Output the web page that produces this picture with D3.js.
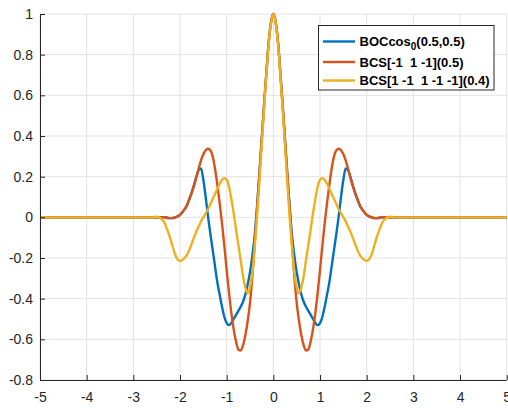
<!DOCTYPE html>
<html><head><meta charset="utf-8">
<script src="https://cdn.jsdelivr.net/npm/d3@7"></script>
<style>
html,body{margin:0;padding:0;background:#fff;}
svg{display:block;font-family:"Liberation Sans",Arial,Helvetica,sans-serif;}
</style></head>
<body><svg id="c" width="508" height="408"></svg>
<script>
// lag values (x)
const lag = [-5,
 -2.6,-2.55,-2.5,-2.45,-2.4,-2.35,-2.3,-2.25,-2.2,-2.15,-2.1,-2.05,-2,
 -1.95,-1.9,-1.85,-1.8,-1.75,-1.7,-1.65,-1.6,-1.55,-1.5,
 -1.45,-1.4,-1.35,-1.3,-1.25,-1.2,-1.15,-1.1,-1.05,-1,
 -0.95,-0.9,-0.85,-0.8,-0.75,-0.7,-0.65,-0.6,-0.55,-0.5,
 -0.45,-0.4,-0.35,-0.3,-0.25,-0.2,-0.15,-0.1,-0.05,
 0,
 0.05,0.1,0.15,0.2,0.25,0.3,0.35,0.4,0.45,
 0.5,0.55,0.6,0.65,0.7,0.75,0.8,0.85,0.9,0.95,
 1,1.05,1.1,1.15,1.2,1.25,1.3,1.35,1.4,1.45,
 1.5,1.55,1.6,1.65,1.7,1.75,1.8,1.85,1.9,1.95,
 2,2.05,2.1,2.15,2.2,2.25,2.3,2.35,2.4,2.45,2.5,2.55,2.6,
 5];

const bocCos = [0,
 0.000,0.000,0.000,0.001,0.001,0.000,-0.001,-0.003,-0.004,-0.003,0.000,0.005,0.012,
 0.025,0.040,0.060,0.090,0.122,0.160,0.200,0.232,0.240,0.185,
 0.100,0.005,-0.080,-0.160,-0.240,-0.320,-0.380,-0.440,-0.490,-0.520,
 -0.530,-0.520,-0.500,-0.480,-0.460,-0.440,-0.415,-0.380,-0.330,-0.270,
 -0.190,-0.090,0.050,0.210,0.380,0.550,0.710,0.860,0.960,
 1.000,
 0.960,0.860,0.710,0.550,0.380,0.210,0.050,-0.090,-0.190,
 -0.270,-0.330,-0.380,-0.415,-0.440,-0.460,-0.480,-0.500,-0.520,-0.530,
 -0.520,-0.490,-0.440,-0.380,-0.320,-0.240,-0.160,-0.080,0.005,0.100,
 0.185,0.240,0.232,0.200,0.160,0.122,0.090,0.060,0.040,0.025,
 0.012,0.005,0.000,-0.003,-0.004,-0.003,-0.001,0.000,0.001,0.001,0.000,0.000,0.000,
 0];

const bcs3 = [0,
 0.000,0.000,0.000,0.001,0.001,0.000,-0.001,-0.003,-0.004,-0.003,0.000,0.005,0.012,
 0.025,0.040,0.060,0.090,0.120,0.155,0.195,0.240,0.280,0.310,
 0.330,0.337,0.330,0.300,0.240,0.160,0.070,-0.030,-0.140,-0.260,
 -0.370,-0.470,-0.550,-0.610,-0.650,-0.655,-0.630,-0.580,-0.510,-0.420,
 -0.290,-0.130,0.040,0.210,0.380,0.550,0.710,0.860,0.960,
 1.000,
 0.960,0.860,0.710,0.550,0.380,0.210,0.040,-0.130,-0.290,
 -0.420,-0.510,-0.580,-0.630,-0.655,-0.650,-0.610,-0.550,-0.470,-0.370,
 -0.260,-0.140,-0.030,0.070,0.160,0.240,0.300,0.330,0.337,0.330,
 0.310,0.280,0.240,0.195,0.155,0.120,0.090,0.060,0.040,0.025,
 0.012,0.005,0.000,-0.003,-0.004,-0.003,-0.001,0.000,0.001,0.001,0.000,0.000,0.000,
 0];

const bcs5 = [0,
 0.000,0.002,0.003,0.000,-0.008,-0.020,-0.045,-0.075,-0.110,-0.150,-0.185,-0.207,-0.214,
 -0.210,-0.200,-0.185,-0.160,-0.130,-0.100,-0.070,-0.045,-0.020,0.000,
 0.020,0.040,0.065,0.090,0.115,0.140,0.165,0.185,0.193,0.185,
 0.150,0.090,0.020,-0.060,-0.135,-0.210,-0.290,-0.345,-0.373,-0.345,
 -0.270,-0.150,0.000,0.170,0.350,0.530,0.700,0.850,0.955,
 1.000,
 0.955,0.850,0.700,0.530,0.350,0.170,0.000,-0.150,-0.270,
 -0.345,-0.373,-0.345,-0.290,-0.210,-0.135,-0.060,0.020,0.090,0.150,
 0.185,0.193,0.185,0.165,0.140,0.115,0.090,0.065,0.040,0.020,
 0.000,-0.020,-0.045,-0.070,-0.100,-0.130,-0.160,-0.185,-0.200,-0.210,
 -0.214,-0.207,-0.185,-0.150,-0.110,-0.075,-0.045,-0.020,-0.008,0.000,0.003,0.002,0.000,
 0];

const seriesNames = ["BOCcos", "BCS[-1\u00a0\u00a01 -1](0.5)", "BCS[1 -1\u00a0\u00a01 -1 -1](0.4)"];
const seriesColors = ["#0072BD", "#D95319", "#EDB120"];
const xTicks = [-5,-4,-3,-2,-1,0,1,2,3,4,5];
const yTicks = [-0.8,-0.6,-0.4,-0.2,0,0.2,0.4,0.6,0.8,1];

const svg = d3.select("#c");
const L = 40, R = 506.7, T = 14, B = 380;
const x = d3.scaleLinear().domain([-5,5]).range([L,R]);
const y = d3.scaleLinear().domain([-0.8,1]).range([B,T]);

// grid
const g = svg.append("g");
g.selectAll("line.gx").data(xTicks).enter().append("line")
 .attr("x1",d=>x(d)).attr("x2",d=>x(d)).attr("y1",T).attr("y2",B)
 .attr("stroke","#e3e3e3").attr("stroke-width",1);
g.selectAll("line.gy").data(yTicks).enter().append("line")
 .attr("x1",L).attr("x2",R).attr("y1",d=>y(d)).attr("y2",d=>y(d))
 .attr("stroke","#e3e3e3").attr("stroke-width",1);

// curves
const sets = [bocCos, bcs3, bcs5];
const line = d3.line().x(d=>x(d[0])).y(d=>y(d[1])).curve(d3.curveMonotoneX);
sets.forEach((vals,i)=>{
  const pts = lag.map((l,k)=>[l, vals[k]]);
  svg.append("path").attr("d", line(pts)).attr("fill","none")
    .attr("stroke", seriesColors[i]).attr("stroke-width",2.4)
    .attr("stroke-linejoin","round");
});

// axes
const fmt = d => String(d);
const ax = svg.append("g").attr("transform",`translate(0,${B})`)
  .call(d3.axisBottom(x).tickValues(xTicks).tickSize(-5).tickPadding(12).tickFormat(fmt));
const ay = svg.append("g").attr("transform",`translate(${L},0)`)
  .call(d3.axisLeft(y).tickValues(yTicks).tickSize(-5).tickPadding(7).tickFormat(fmt));
[ax,ay].forEach(a=>{
  a.selectAll("path").attr("stroke","#262626").attr("stroke-width",1);
  a.selectAll("line").attr("stroke","#262626");
  a.selectAll("text").attr("fill","#262626").style("font-size","14px").style("font-family","'Liberation Sans',Arial,sans-serif");
});
ax.selectAll("path").attr("d",`M${L},0.5H${R}`);
ay.selectAll("path").attr("d",`M0.5,${B}V${T}`);

// legend
const lg = svg.append("g");
lg.append("rect").attr("x",318.5).attr("y",25.5).attr("width",175.5).attr("height",64.5)
  .attr("fill","#fff").attr("stroke","#262626").attr("stroke-width",1);
const rowsY = [41.5, 62, 80.5];
seriesNames.forEach((n,i)=>{
  lg.append("line").attr("x1",323).attr("x2",355).attr("y1",rowsY[i]).attr("y2",rowsY[i])
    .attr("stroke",seriesColors[i]).attr("stroke-width",2.4);
  const t = lg.append("text").attr("x",359.5).attr("y",rowsY[i]+4.5)
    .attr("fill","#000").style("font-size","13px").style("font-weight","bold");
  if(i===0){
    t.append("tspan").text("BOCcos");
    t.append("tspan").attr("dy",4).style("font-size","10px").text("0");
    t.append("tspan").attr("dy",-4).text("(0.5,0.5)");
  } else {
    t.text(n);
  }
});
</script></body></html>
